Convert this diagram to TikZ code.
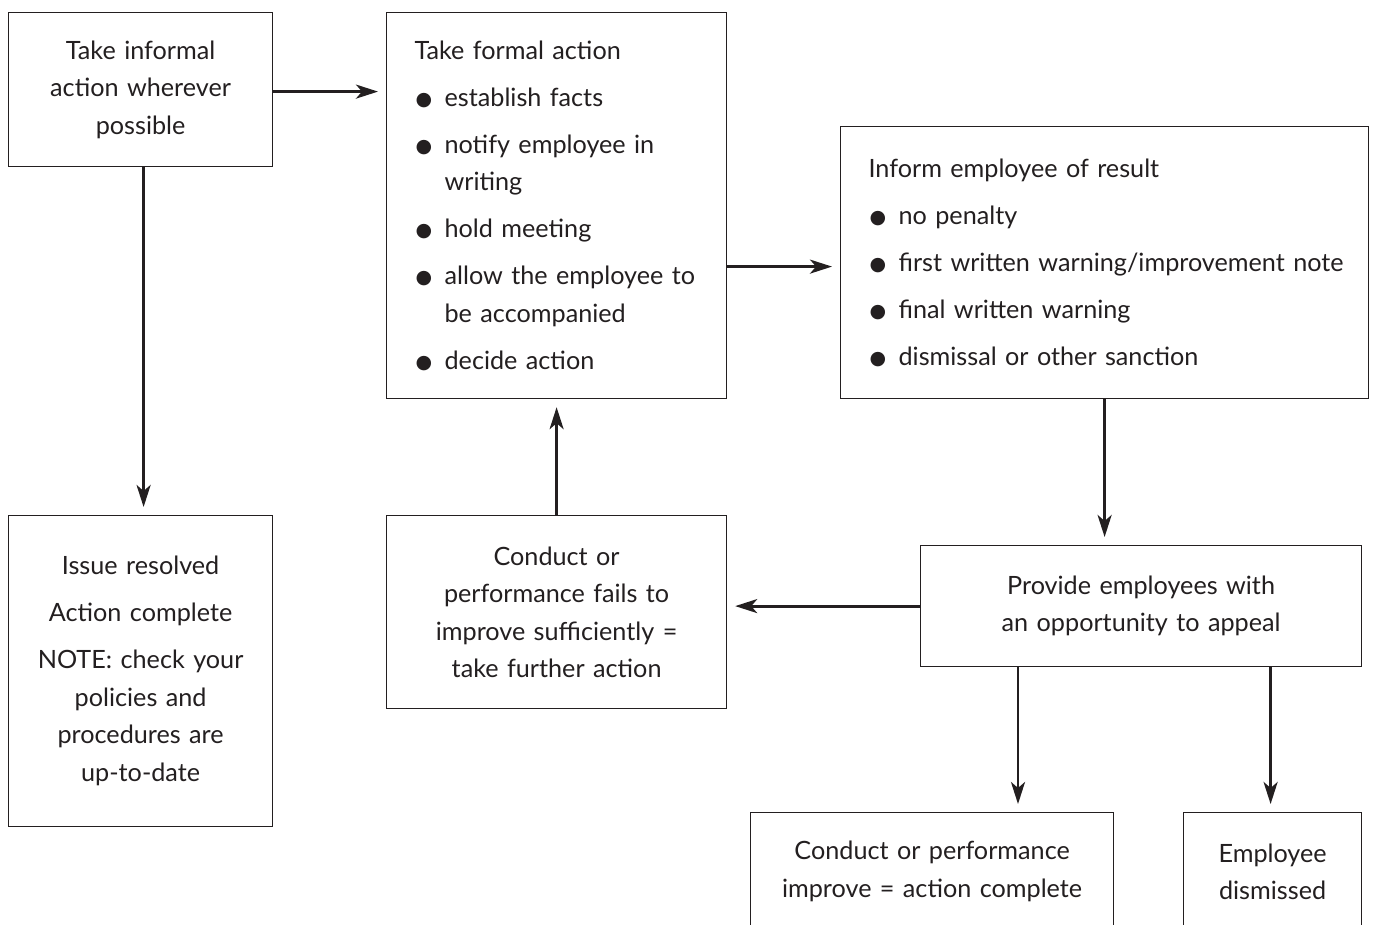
\documentclass[tikz,border=0pt]{standalone}
\usepackage{fontspec}
\setmainfont{Lato}
\newfontfamily\symfont{DejaVu Sans}
\usetikzlibrary{arrows.meta,calc}
\definecolor{ink}{HTML}{231F20}
\newcommand{\bul}{\makebox[30pt][l]{\hspace*{1pt}\raisebox{1pt}{\symfont\fontsize{19}{19}\selectfont ●}}}
\newcommand{\bitem}[1]{\mbox{\bul#1}}
\newcommand{\cont}[1]{\mbox{\hspace*{30pt}#1}}
\begin{document}
\begin{tikzpicture}[x=1pt,y=-1pt,
  box/.style={draw=ink, line width=1.2pt, text=ink, anchor=north west, inner xsep=28pt, inner ysep=0pt,
    font=\fontsize{25.2}{37.5}\selectfont},
  cbox/.style={box, align=center},
  lbox/.style={box, align=left},
  arr/.style={line width=2.8pt, draw=ink, -{Stealth[length=22pt,width=14pt,inset=6pt]}, shorten >=8pt}]
\useasboundingbox (0,0) rectangle (1375,924);
\fill[white] (0,0) rectangle (1375,924);

\node[cbox, minimum width=264, minimum height=154, text width=208] (A) at (8,12)
  {Take informal\\ action wherever\\ possible};
\node[lbox, minimum width=340, minimum height=386, text width=284] (B) at (386,12)
  {\mbox{Take formal action}\\[9.5pt]
   \bitem{establish facts}\\[9.5pt]
   \bitem{notify employee in}\\
   \cont{writing}\\[9.5pt]
   \bitem{hold meeting}\\[9.5pt]
   \bitem{allow the employee to}\\
   \cont{be accompanied}\\[9.5pt]
   \bitem{decide action}};
\node[lbox, minimum width=528, minimum height=272, text width=472] (C) at (840,126)
  {\mbox{Inform employee of result}\\[9.5pt]
   \bitem{no penalty}\\[9.5pt]
   \bitem{first written warning/improvement note}\\[9.5pt]
   \bitem{final written warning}\\[9.5pt]
   \bitem{dismissal or other sanction}};
\node[cbox, minimum width=264, minimum height=311, text width=208] (D) at (8,515)
  {Issue resolved\\[9.5pt] Action complete\\[9.5pt] NOTE: check your\\ policies and\\ procedures are\\ up-to-date};
\node[cbox, minimum width=340, minimum height=193, text width=284] (E) at (386,515)
  {Conduct or\\ performance fails to\\ improve sufficiently =\\ take further action};
\node[cbox, minimum width=441, minimum height=121, text width=385] (F) at (920,545)
  {Provide employees with\\ an opportunity to appeal};
\node[cbox, minimum width=363, minimum height=118, text width=307] (G) at (750,812)
  {Conduct or performance\\ improve = action complete};
\node[cbox, minimum width=178, minimum height=118, text width=122] (H) at (1183,812)
  {Employee\\ dismissed};

\draw[arr] ([yshift=-2]A.east) -- ([yshift=-2]A.east -| B.west);
\draw[arr] ([xshift=3]A.south) -- ([xshift=3]A.south |- D.north);
\draw[arr] ([yshift=-4]B.east |- C.west) -- ([yshift=-4]C.west);
\draw[arr] (C.south) -- (C.south |- F.north);
\draw[arr] (F.west) -- (F.west -| E.east);
\draw[arr] (E.north) -- (E.north |- B.south);
\coordinate (Fg) at ([xshift=98]F.south west);
\draw[arr] (Fg) -- (Fg |- G.north);
\draw[arr] ([xshift=-2]H.north |- F.south) -- ([xshift=-2]H.north);
\end{tikzpicture}
\end{document}
